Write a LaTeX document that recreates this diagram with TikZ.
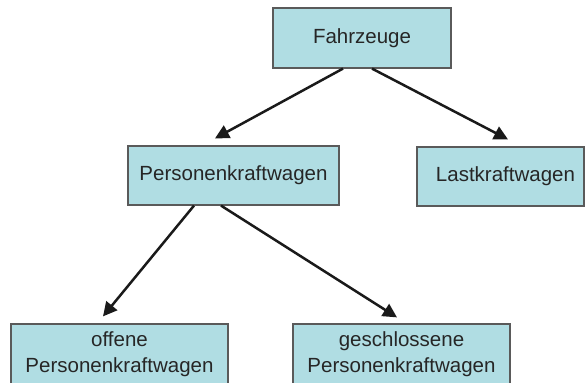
\documentclass[tikz,border=0pt]{standalone}
\usepackage{fontspec}
\setmainfont{Liberation Sans}
\usetikzlibrary{arrows.meta}
\definecolor{boxfill}{HTML}{B0DDE3}
\definecolor{boxline}{HTML}{5A5A5A}
\definecolor{arrowcol}{HTML}{1A1A1A}
\begin{document}
\begin{tikzpicture}[x=1pt,y=1pt,
  box/.style={draw=boxline,line width=1.2pt,fill=boxfill,inner sep=0pt,
    font=\fontsize{20.5}{25.5}\selectfont,text=black!85,align=center},
  link/.style={draw=arrowcol,line width=2.5pt,
    -{Triangle[length=14pt,width=14pt]}}]
\useasboundingbox (0,0) rectangle (585,382);
% boxes (centre positions, size)
\node[box,minimum width=178pt,minimum height=60pt] (fz)  at (362,344) {Fahrzeuge};
\node[box,minimum width=211pt,minimum height=59pt] (pkw) at (233.5,206.5) {Personenkraftwagen};
\node[box,minimum width=167pt,minimum height=59pt] (lkw) at (500.5,205.5) {\hspace*{10pt}Lastkraftwagen};
\node[box,minimum width=217pt,minimum height=60pt] (opk) at (119.5,28) {offene\\Personenkraftwagen};
\node[box,minimum width=217pt,minimum height=60pt] (gpk) at (401.5,28) {geschlossene\\Personenkraftwagen};
% connectors
\draw[link] ([xshift=-19pt]fz.south) -- ([xshift=-18.5pt,yshift=7pt]pkw.north);
\draw[link] ([xshift=10pt]fz.south) -- ([xshift=7.5pt,yshift=7pt]lkw.north);
\draw[link] ([xshift=-39.5pt]pkw.south) -- ([xshift=-16.5pt,yshift=7pt]opk.north);
\draw[link] ([xshift=-12.5pt]pkw.south) -- ([xshift=-4.5pt,yshift=6pt]gpk.north);
\end{tikzpicture}
\end{document}
